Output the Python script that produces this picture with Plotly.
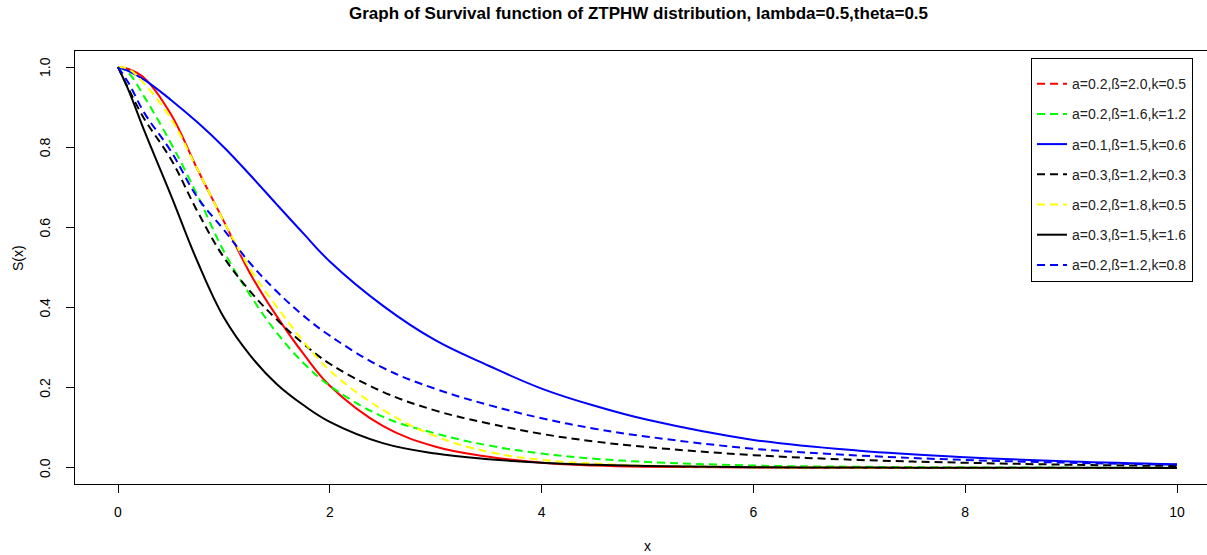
import plotly.graph_objects as go

x_vals = [0, 0.1, 0.25, 0.5, 0.75, 1.0, 1.25, 1.5, 1.75, 2.0, 2.5, 3.0, 3.5, 4.0, 4.5, 5.0, 6.0, 7.0, 8.0, 9.0, 10.0]

s_red = [1, 0.995, 0.972, 0.882, 0.745, 0.615, 0.484, 0.378, 0.285, 0.205, 0.105, 0.053, 0.028, 0.013, 0.006, 0.003, 0.001, 0.0003, 0.0001, 0, 0]
s_green = [1, 0.985, 0.925, 0.81, 0.68, 0.54, 0.43, 0.337, 0.262, 0.205, 0.128, 0.086, 0.056, 0.036, 0.023, 0.015, 0.006, 0.003, 0.0015, 0.0008, 0.0005]
s_blue = [1, 0.99, 0.968, 0.918, 0.862, 0.80, 0.73, 0.657, 0.585, 0.515, 0.405, 0.318, 0.255, 0.198, 0.155, 0.12, 0.07, 0.043, 0.027, 0.016, 0.009]
s_black_dash = [1, 0.945, 0.87, 0.77, 0.64, 0.525, 0.44, 0.37, 0.31, 0.26, 0.19, 0.143, 0.111, 0.085, 0.066, 0.052, 0.032, 0.02, 0.013, 0.008, 0.005]
s_yellow = [1, 0.995, 0.958, 0.871, 0.745, 0.615, 0.495, 0.402, 0.316, 0.243, 0.145, 0.079, 0.04, 0.02, 0.011, 0.006, 0.002, 0.0008, 0.0003, 0.0001, 0]
s_black = [1, 0.942, 0.84, 0.68, 0.515, 0.375, 0.28, 0.209, 0.157, 0.115, 0.062, 0.036, 0.022, 0.013, 0.008, 0.005, 0.002, 0.001, 0.0005, 0.0003, 0.0002]
s_blue_dash = [1, 0.96, 0.885, 0.79, 0.675, 0.594, 0.51, 0.44, 0.38, 0.33, 0.25, 0.197, 0.157, 0.124, 0.098, 0.078, 0.048, 0.031, 0.02, 0.013, 0.008]

labels = [
    "a=0.2,ß=2.0,k=0.5",
    "a=0.2,ß=1.6,k=1.2",
    "a=0.1,ß=1.5,k=0.6",
    "a=0.3,ß=1.2,k=0.3",
    "a=0.2,ß=1.8,k=0.5",
    "a=0.3,ß=1.5,k=1.6",
    "a=0.2,ß=1.2,k=0.8",
]
series = [s_red, s_green, s_blue, s_black_dash, s_yellow, s_black, s_blue_dash]
colors = ["#FF0000", "#00FF00", "#0000FF", "#000000", "#FFFF00", "#000000", "#0000FF"]
DASH = "8px,5px"
legend_dash = [DASH, DASH, "solid", DASH, DASH, "solid", DASH]
plot_dash = ["solid", DASH, "solid", DASH, DASH, "solid", DASH]

x_ticks = [0, 2, 4, 6, 8, 10]
y_ticks = [0.0, 0.2, 0.4, 0.6, 0.8, 1.0]
y_ticktext = ["0.0", "0.2", "0.4", "0.6", "0.8", "1.0"]

FONT = "Liberation Sans, Arial, sans-serif"

fig = go.Figure()
for i, (lab, ys) in enumerate(zip(labels, series)):
    fig.add_trace(go.Scatter(
        x=x_vals, y=ys, mode="lines", name=lab,
        line=dict(color=colors[i], width=2, dash=plot_dash[i], shape="spline", smoothing=1.1),
        legendgroup=f"g{i}", showlegend=False, hoverinfo="skip",
    ))
# legend entries (the reference legend shows the red one as dashed)
for i, lab in enumerate(labels):
    fig.add_trace(go.Scatter(
        x=[None], y=[None], mode="lines", name=lab,
        line=dict(color=colors[i], width=2, dash=legend_dash[i]),
        legendgroup=f"g{i}", showlegend=True,
    ))

L, R, T, B = 75, 0, 51, 71
W, H = 1207, 555
pw = W - L - R
ph = H - T - B


def px_x(p):
    return (p - L) / pw


def px_y(p):
    return (H - B - p) / ph


annotations = [
    dict(text="<b>Graph of Survival function of ZTPHW distribution, lambda=0.5,theta=0.5</b>",
         xref="paper", yref="paper", x=px_x(638), y=px_y(14),
         xanchor="center", yanchor="middle", showarrow=False,
         font=dict(family=FONT, size=17, color="black")),
    dict(text="x", xref="paper", yref="paper", x=px_x(647), y=px_y(546),
         xanchor="center", yanchor="middle", showarrow=False,
         font=dict(family=FONT, size=14, color="black")),
    dict(text="S(x)", xref="paper", yref="paper", x=px_x(18), y=px_y(258),
         xanchor="center", yanchor="middle", showarrow=False, textangle=-90,
         font=dict(family=FONT, size=14, color="black")),
]
for v, t in zip(y_ticks, y_ticktext):
    annotations.append(dict(text=t, xref="paper", yref="y", x=px_x(45), y=v,
                            xanchor="center", yanchor="middle", showarrow=False, textangle=-90,
                            font=dict(family=FONT, size=14, color="black")))

fig.update_layout(
    template="none",
    width=W, height=H,
    margin=dict(l=L, r=R, t=T, b=B, autoexpand=False),
    paper_bgcolor="white", plot_bgcolor="white",
    font=dict(family=FONT, size=14, color="black"),
    showlegend=True,
    hovermode=False,
    legend=dict(
        x=px_x(1193), xanchor="right",
        y=px_y(58), yanchor="top",
        bordercolor="black", borderwidth=1, bgcolor="white",
        font=dict(family=FONT, size=14, color="#222222"),
        tracegroupgap=9, traceorder="grouped", itemwidth=30,
        title=dict(text="&nbsp;", font=dict(family=FONT, size=7)),
    ),
    xaxis=dict(
        range=[-0.406, 10.283], tickmode="array", tickvals=x_ticks,
        ticktext=[str(v) for v in x_ticks],
        showgrid=False, zeroline=False, showline=True, linecolor="black", linewidth=1,
        mirror=True, ticks="outside", ticklen=8, tickcolor="black", tickwidth=1,
        tickfont=dict(family=FONT, size=14, color="black"), ticklabelstandoff=7,
    ),
    yaxis=dict(
        range=[-0.04, 1.04], tickmode="array", tickvals=y_ticks, showticklabels=False,
        showgrid=False, zeroline=False, showline=True, linecolor="black", linewidth=1,
        mirror=False, ticks="outside", ticklen=8, tickcolor="black", tickwidth=1,
    ),
    annotations=annotations,
)

fig.write_html(
    "out.html",
    config={"displayModeBar": False},
    post_script="document.body.style.margin='0';document.body.style.overflow='hidden';",
)
